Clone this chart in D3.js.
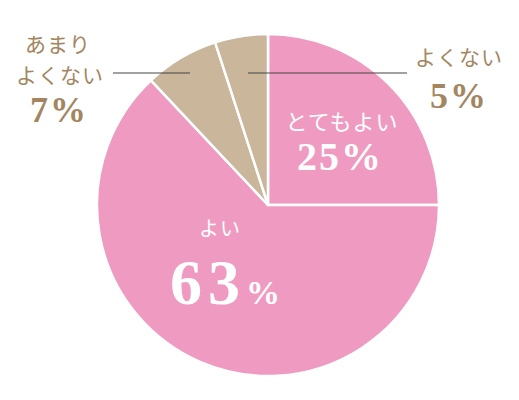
<!DOCTYPE html>
<html>
<head>
<meta charset="utf-8">
<script src="https://cdn.jsdelivr.net/npm/d3@7"></script>
<style>
  html, body { margin: 0; padding: 0; background: #fff; }
  svg { display: block; }
</style>
</head>
<body>
<svg id="chart" width="519" height="400"></svg>
<script>
// Data
const categories = ["とてもよい", "よい", "あまりよくない", "よくない"];
const values = [25, 63, 7, 5];

// Layout
const width = 519, height = 400;
const cx = 268, cy = 205, radius = 171;
const sliceColor = ["#ef9bc1", "#ef9bc1", "#c9b69b", "#c9b69b"];
const jp = "'Noto Sans CJK JP', 'Noto Sans', sans-serif";
const serif = "'Liberation Serif', 'DejaVu Serif', serif";
const brown = "#a3865f";

const svg = d3.select("#chart");

const pie = d3.pie().sort(null).value(d => d)(values);
const arc = d3.arc().innerRadius(0).outerRadius(radius);

const g = svg.append("g").attr("transform", `translate(${cx},${cy})`);

g.selectAll("path")
    .data(pie)
    .join("path")
    .attr("d", arc)
    .attr("fill", (d, i) => sliceColor[i])
    .attr("stroke", "#fff")
    .attr("stroke-width", 2.5)
    .attr("stroke-linejoin", "round");

// leader lines for small slices
const leaders = [
    { x1: 113, x2: 190, y: 73 },
    { x1: 248, x2: 407, y: 73 }
];
svg.append("g")
    .attr("stroke", "#444")
    .attr("stroke-width", 1)
    .selectAll("line")
    .data(leaders)
    .join("line")
    .attr("x1", d => d.x1)
    .attr("x2", d => d.x2)
    .attr("y1", d => d.y)
    .attr("y2", d => d.y);

// labels
const text = (x, y, str, size, fill, family, weight, spacing) =>
    svg.append("text")
        .attr("x", x)
        .attr("y", y)
        .attr("text-anchor", "middle")
        .style("font-family", family)
        .style("font-size", size + "px")
        .style("font-weight", weight)
        .style("letter-spacing", spacing + "px")
        .style("fill", fill)
        .text(str);

// とてもよい
text(342, 130, categories[0], 22, "#fff", jp, 400, 1);
text(340, 170, values[0] + "%", 40, "#fff", serif, 700, 2);

// よい
text(220, 236, categories[1], 20, "#fff", jp, 400, 1);
const big = svg.append("text")
    .attr("x", 225)
    .attr("y", 304)
    .attr("text-anchor", "middle")
    .style("font-family", serif)
    .style("font-weight", 700)
    .style("fill", "#fff");
big.append("tspan").style("font-size", "64px").style("letter-spacing", "6px").text(values[1]);
big.append("tspan").style("font-size", "34px").text("%");

// あまりよくない
text(58, 52, "あまり", 21, brown, jp, 400, 1);
text(60, 83, "よくない", 21, brown, jp, 400, 1);
text(59, 122, values[2] + "%", 36, brown, serif, 700, 2);

// よくない
text(459, 65, categories[3], 21, brown, jp, 400, 1);
text(459, 108, values[3] + "%", 36, brown, serif, 700, 2);
</script>
</body>
</html>
